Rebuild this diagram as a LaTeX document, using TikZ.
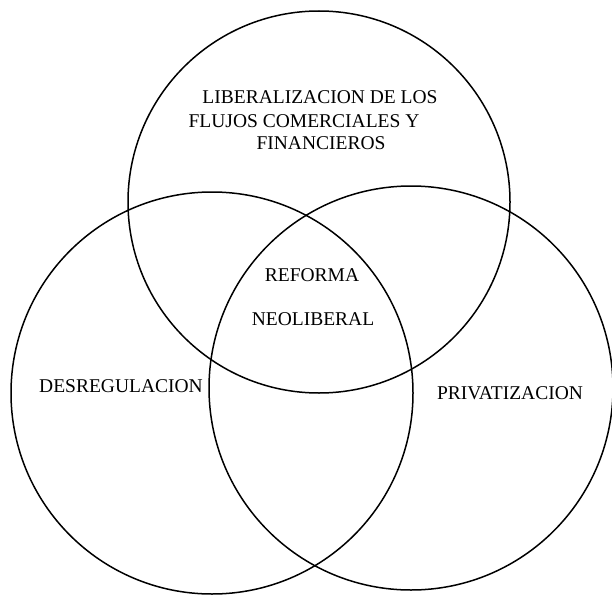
\documentclass[tikz,border=0pt]{standalone}
\usepackage{fontspec}
\setmainfont{Liberation Serif}

\begin{document}
\begin{tikzpicture}[x=1pt, y=-1pt,
        conjunto/.style={
            % The shape:
            circle,
            % The border
            line width=1.5pt,
            draw=black,
            inner sep=0pt
        },
        rotulo/.style={
            % Font
            font=\fontsize{19.5}{23}\selectfont,
            inner sep=0pt
        }]

    \useasboundingbox (0,0) rectangle (612,596);

    \foreach \cx/\cy/\diam/\cname in {319/202/382/liberal, 212/393/402/desreg, 411/388/404/privat}
    {
        \node [conjunto, minimum size=\diam pt] (\cname) at (\cx,\cy) {};
    }

    \node [rotulo] (lib1) at (320,97) {LIBERALIZACION DE LOS};
    \node [rotulo] (lib2) at (304,121) {FLUJOS COMERCIALES Y};
    \node [rotulo] (lib3) at (321,143) {FINANCIEROS};

    \node [rotulo] (ref1) at (312,275) {REFORMA};
    \node [rotulo] (ref2) at (313,319) {NEOLIBERAL};

    \node [rotulo] (des) at (121,386) {DESREGULACION};
    \node [rotulo] (pri) at (510,393) {PRIVATIZACION};

\end{tikzpicture}
\end{document}
